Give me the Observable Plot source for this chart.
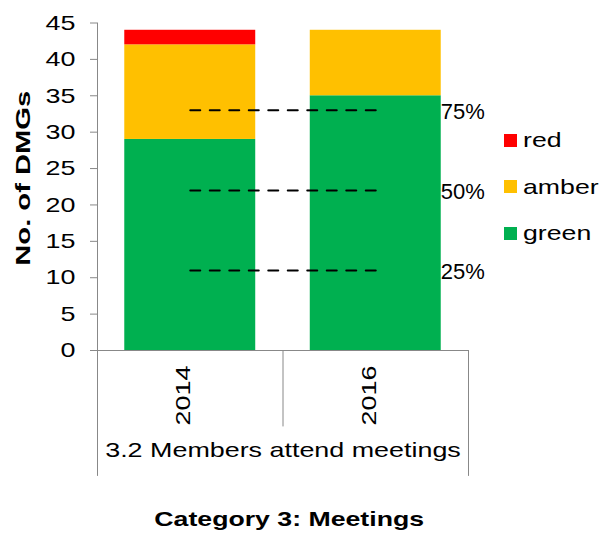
<!DOCTYPE html>
<html><head><meta charset="utf-8">
<script src="https://cdn.jsdelivr.net/npm/d3@7"></script>
<script src="https://cdn.jsdelivr.net/npm/@observablehq/plot@0.6"></script>
<style>
body{margin:0;background:#fff;font-family:"Liberation Sans",Arial,sans-serif;}
#wrap{position:relative;width:600px;height:536px;overflow:hidden;}
#chart svg{display:block;}
#title{position:absolute;left:0;top:507px;width:578px;text-align:center;font-weight:bold;font-size:21px;line-height:24px;color:#000;}
#title span{display:inline-block;transform:scaleX(1.27);}
#legend{position:absolute;left:504px;top:117px;}
</style></head><body>
<div id="wrap"><div id="chart"></div><div id="title"><span id="titletext"></span></div><div id="legend"></div></div>
<script>
// ---- data ----
const years = ["2014", "2016"];
const seriesNames = ["green", "amber", "red"];
const seriesColors = ["#00B050", "#FFC000", "#FF0000"];
const greenValues = [29, 35];
const amberValues = [13, 9];
const redValues = [2, 0];
const yTicks = [0, 5, 10, 15, 20, 25, 30, 35, 40, 45];
const thresholds = [11, 22, 33];
const thresholdLabels = ["25%", "50%", "75%"];
const groupLabel = "3.2 Members attend meetings";
const yLabel = "No. of DMGs";
const titleText = "Category 3: Meetings";

const valuesBySeries = {green: greenValues, amber: amberValues, red: redValues};
const rows = [];
years.forEach((yr, i) => {
  seriesNames.forEach(s => rows.push({year: yr, series: s, value: valuesBySeries[s][i]}));
});
const thresholdRows = thresholds.map((v, i) => ({value: v, label: thresholdLabels[i]}));
const thresholdLines = thresholdRows.flatMap(r => years.map(yr => ({year: yr, value: r.value, label: r.label})));

const gray = "#888888";
const half = 92.75; // half of one category step (band boundary offset)
const font = "'Liberation Sans', Arial, sans-serif";

const plot = Plot.plot({
  width: 600,
  height: 490,
  marginLeft: 97,
  marginRight: 132,
  marginTop: 22.5,
  marginBottom: 140,
  style: {fontFamily: font, fontSize: "21px", background: "white", color: "black", overflow: "visible"},
  x: {type: "band", domain: years, paddingInner: 0.294, paddingOuter: 0.147, round: false, axis: null},
  y: {domain: [0, 45], axis: null},
  color: {domain: seriesNames, range: seriesColors},
  marks: [
    Plot.barY(rows, {x: "year", y: "value", fill: "series"}),
    Plot.lineY(thresholdLines, {x: "year", y: "value", z: "label", stroke: "black", strokeWidth: 2, strokeDasharray: "10,9.5"}),
    Plot.text(thresholdRows, {y: "value", x: () => years[1], text: "label", textAnchor: "start", dx: 65, dy: 2, fontSize: 22}),
    Plot.axisY({ticks: yTicks, tickSize: 7, tickPadding: 15, stroke: gray, fill: "black", label: null, fontSize: 21}),
    Plot.ruleY([0], {stroke: gray}),
    Plot.ruleX([years[0]], {x: d => d, dx: -half, y1: 45, y2: -17.3, stroke: gray}),
    Plot.ruleX([years[1]], {x: d => d, dx: -half, y1: 0, y2: -10.5, stroke: gray}),
    Plot.ruleX([years[1]], {x: d => d, dx: half, y1: 0, y2: -17.3, stroke: gray}),
    Plot.text(years, {x: d => d, frameAnchor: "bottom", rotate: -90, dy: 45, fontSize: 21, fill: "black"}),
    Plot.text([groupLabel], {frameAnchor: "bottom", dy: 106, fontSize: 21, fill: "black"}),
    Plot.text([yLabel], {frameAnchor: "left", textAnchor: "middle", rotate: -90, dx: -74, dy: -8.5, fontSize: 21, fontWeight: "bold", fill: "black"})
  ]
});
document.getElementById("chart").append(plot);

// widen axis/category text like the original
plot.querySelectorAll("text").forEach(t => {
  const s = t.textContent;
  if (s.endsWith("%")) return;
  if (s === yLabel) {
    const tr = t.getAttribute("transform");
    if (tr) t.setAttribute("transform", tr + " scale(1.39,1)");
    return;
  }
  const L = t.getComputedTextLength();
  t.setAttribute("textLength", L * 1.28);
  t.setAttribute("lengthAdjust", "spacingAndGlyphs");
});

document.getElementById("titletext").textContent = titleText;

// legend (top to bottom: red, amber, green)
const lg = Plot.legend({
  color: {type: "ordinal", domain: seriesNames.slice().reverse(), range: seriesColors.slice().reverse()},
  columns: 1,
  swatchSize: 13,
  style: {fontFamily: font, fontSize: "21px", color: "black"}
});
lg.style.margin = "0";
lg.style.minHeight = "0";
lg.style.fontSize = "21px";
lg.style.fontFamily = font;
document.getElementById("legend").append(lg);
lg.querySelectorAll("svg").forEach(svg => {
  const item = svg.parentElement;
  item.style.height = "46.5px";
  item.style.display = "flex";
  item.style.alignItems = "center";
  item.style.margin = "0";
  item.style.padding = "0";
  item.style.width = "auto";
  item.style.overflow = "visible";
  svg.style.marginRight = "6px";
  svg.style.flex = "none";
  [...item.childNodes].forEach(n => {
    if (n === svg) return;
    let el = n;
    if (n.nodeType === 3) {
      if (!n.textContent.trim()) return;
      el = document.createElement("span");
      el.textContent = n.textContent;
      item.replaceChild(el, n);
    }
    el.style.display = "inline-block";
    el.style.overflow = "visible";
    el.style.whiteSpace = "nowrap";
    el.style.transform = "scaleX(1.27)";
    el.style.transformOrigin = "left center";
    el.style.fontSize = "21px";
    el.style.fontFamily = font;
  });
});
</script>
</body></html>
